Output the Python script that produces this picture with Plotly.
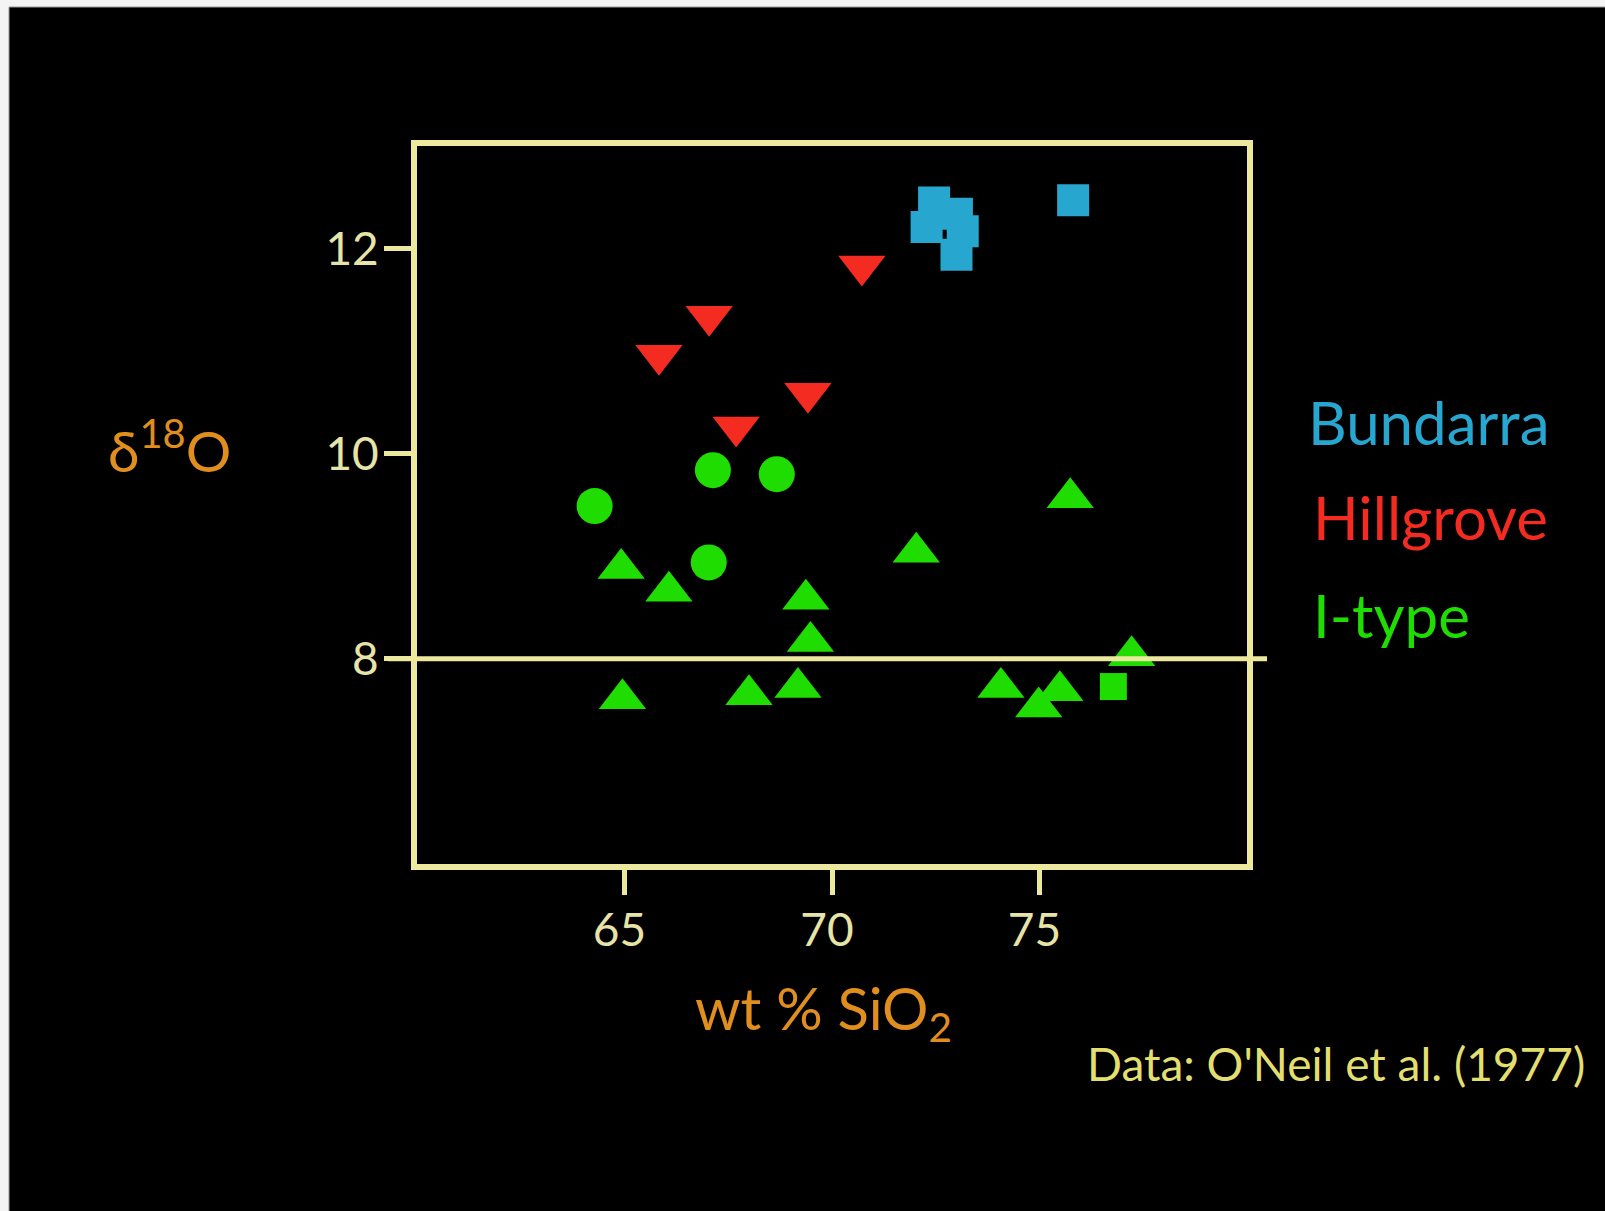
import plotly.graph_objects as go

# Oxygen isotopes vs. silica for granitoids of the New England Batholith
bundarra_sio2 = [72.46, 73.01, 72.28, 73.15, 73.00, 75.81]
bundarra_d18o = [12.45, 12.34, 12.21, 12.17, 11.94, 12.47]

hillgrove_sio2 = [65.83, 67.04, 70.72, 67.69, 69.42]
hillgrove_d18o = [10.96, 11.34, 11.83, 10.26, 10.59]

itype_tri_sio2 = [64.92, 66.07, 69.37, 69.48, 64.95, 68.00, 69.18,
                  72.03, 75.74, 77.22, 74.07, 75.49, 74.98]
itype_tri_d18o = [8.88, 8.66, 8.58, 8.17, 7.61, 7.65, 7.72,
                  9.04, 9.57, 8.03, 7.72, 7.69, 7.53]

itype_circ_sio2 = [64.28, 67.13, 68.67, 67.03]
itype_circ_d18o = [9.49, 9.84, 9.80, 8.94]

itype_sq_sio2 = [76.78]
itype_sq_d18o = [7.73]

x_ticks = [65, 70, 75]
y_ticks = [8, 10, 12]
x_range = [60, 80]
y_range = [6, 13]
itype_limit = 8  # upper δ18O bound for I-type granites

# page geometry (pixels)
W, H = 1605, 1211
PL, PR, PT, PB = 417, 1247, 146, 864


def px_x(px):
    return (px - PL) / (PR - PL)


def px_y(py):
    return (PB - py) / (PB - PT)


FRAME = "#ECE89E"
TICKTXT = "#E6E4A6"
ORANGE = "#E08E1E"
BLUE = "#27A7CF"
RED = "#F32B20"
GREEN = "#1FDD00"
DATA_TXT = "#E3DF6E"
FONT = "Lato"

fig = go.Figure()

fig.add_trace(go.Scatter(
    x=bundarra_sio2, y=bundarra_d18o, mode="markers", name="Bundarra",
    marker=dict(symbol="square", size=32, color=BLUE, line=dict(width=0))))
fig.add_trace(go.Scatter(
    x=hillgrove_sio2, y=hillgrove_d18o, mode="markers", name="Hillgrove",
    marker=dict(symbol="triangle-down", size=41, color=RED, line=dict(width=0))))
fig.add_trace(go.Scatter(
    x=itype_tri_sio2, y=itype_tri_d18o, mode="markers", name="I-type",
    marker=dict(symbol="triangle-up", size=41, color=GREEN, line=dict(width=0))))
fig.add_trace(go.Scatter(
    x=itype_circ_sio2, y=itype_circ_d18o, mode="markers", name="I-type",
    marker=dict(symbol="circle", size=36, color=GREEN, line=dict(width=0))))
fig.add_trace(go.Scatter(
    x=itype_sq_sio2, y=itype_sq_d18o, mode="markers", name="I-type",
    marker=dict(symbol="square", size=27, color=GREEN, line=dict(width=0))))

axis_common = dict(
    showgrid=False, zeroline=False, showline=True, linewidth=6,
    linecolor=FRAME, mirror=True, ticks="outside", tickwidth=5,
    tickcolor=FRAME, tickfont=dict(family=FONT, size=46, color=TICKTXT),
)

fig.update_xaxes(range=x_range, tickvals=x_ticks, ticklen=25,
                 ticklabelstandoff=-4, ticklabelshift=-5, **axis_common)
fig.update_yaxes(range=y_range, tickvals=y_ticks, ticklen=27,
                 ticklabelstandoff=-4, **axis_common)

shapes = [
    # I-type / S-type divide
    dict(type="line", xref="paper", yref="y", x0=px_x(388), x1=px_x(1267),
         y0=itype_limit, y1=itype_limit, line=dict(color=FRAME, width=5)),
    # light page edge along top and left
    dict(type="rect", xref="paper", yref="paper", x0=px_x(0), x1=px_x(W),
         y0=px_y(0), y1=px_y(7), fillcolor="#F4F4F4", line=dict(width=0),
         layer="below"),
    dict(type="rect", xref="paper", yref="paper", x0=px_x(0), x1=px_x(9),
         y0=px_y(0), y1=px_y(H), fillcolor="#F4F4F4", line=dict(width=0),
         layer="below"),
    dict(type="line", xref="paper", yref="paper", x0=px_x(9), x1=px_x(W),
         y0=px_y(7), y1=px_y(7), line=dict(color="#9A9A9A", width=1)),
    dict(type="line", xref="paper", yref="paper", x0=px_x(9), x1=px_x(9),
         y0=px_y(7), y1=px_y(H), line=dict(color="#9A9A9A", width=1)),
]

annotations = [
    dict(text="δ<sup>18</sup>O", x=px_x(106), y=px_y(486), xanchor="left",
         yanchor="bottom", font=dict(family=FONT, size=57, color=ORANGE)),
    dict(text="wt % SiO<sub>2</sub>", x=px_x(823), y=px_y(971),
         xanchor="center", yanchor="top",
         font=dict(family=FONT, size=58, color=ORANGE)),
    dict(text="Bundarra", x=px_x(1306), y=px_y(460), xanchor="left",
         yanchor="bottom", font=dict(family=FONT, size=60, color=BLUE)),
    dict(text="Hillgrove", x=px_x(1311), y=px_y(555), xanchor="left",
         yanchor="bottom", font=dict(family=FONT, size=60, color=RED)),
    dict(text="I-type", x=px_x(1311), y=px_y(653), xanchor="left",
         yanchor="bottom", font=dict(family=FONT, size=60, color=GREEN)),
    dict(text="Data: O'Neil et al. (1977)", x=px_x(1336), y=px_y(1093),
         xanchor="center", yanchor="bottom",
         font=dict(family=FONT, size=46, color=DATA_TXT)),
]
for a in annotations:
    a.update(xref="paper", yref="paper", showarrow=False)

fig.update_layout(
    width=W, height=H, autosize=False,
    margin=dict(l=PL, r=W - PR, t=PT, b=H - PB, pad=0),
    paper_bgcolor="black", plot_bgcolor="black",
    showlegend=False, shapes=shapes, annotations=annotations,
)

fig.write_html("out.html")
